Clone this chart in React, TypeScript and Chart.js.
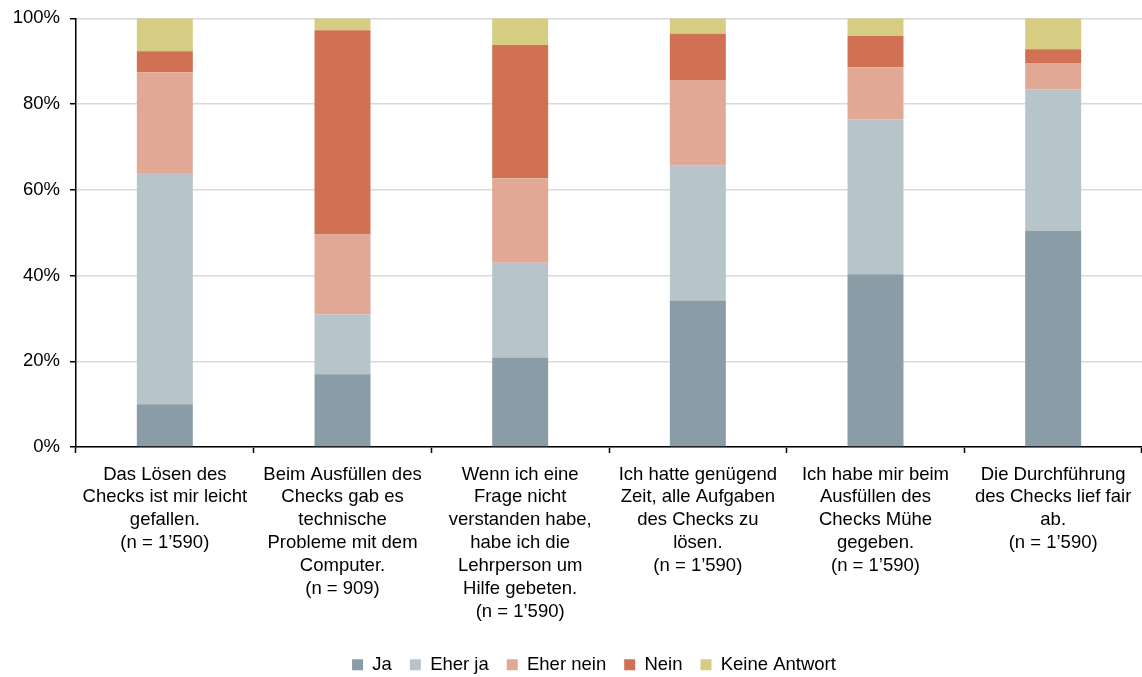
import React, { useEffect, useRef } from "react";
import { Chart, registerables } from "chart.js";

Chart.register(...registerables);

const categories: string[][] = [
  ["Das Lösen des", "Checks ist mir leicht", "gefallen.", "(n = 1’590)"],
  ["Beim Ausfüllen des", "Checks gab es", "technische", "Probleme mit dem", "Computer.", "(n = 909)"],
  ["Wenn ich eine", "Frage nicht", "verstanden habe,", "habe ich die", "Lehrperson um", "Hilfe gebeten.", "(n = 1’590)"],
  ["Ich hatte genügend", "Zeit, alle Aufgaben", "des Checks zu", "lösen.", "(n = 1’590)"],
  ["Ich habe mir beim", "Ausfüllen des", "Checks Mühe", "gegeben.", "(n = 1’590)"],
  ["Die Durchführung", "des Checks lief fair", "ab.", "(n = 1’590)"],
];

const ja = [10.0, 17.0, 20.9, 34.2, 40.3, 50.4];
const eherJa = [53.9, 13.9, 22.1, 31.5, 36.1, 33.0];
const eherNein = [23.5, 18.7, 19.7, 19.9, 12.2, 6.2];
const nein = [4.9, 47.6, 31.1, 10.8, 7.3, 3.2];
const keineAntwort = [7.7, 2.8, 6.2, 3.6, 4.1, 7.2];

const seriesNames = ["Ja", "Eher ja", "Eher nein", "Nein", "Keine Antwort"];
const seriesColors = ["#8a9ca6", "#b7c4c9", "#e1a896", "#cf7152", "#d7cd82"];
const yTicks = [0, 20, 40, 60, 80, 100];

const FONT = "'Liberation Sans', Arial, sans-serif";

export default function App() {
  const ref = useRef<HTMLCanvasElement | null>(null);

  useEffect(() => {
    document.body.style.margin = "0";
    const canvas = ref.current;
    if (!canvas) return;
    const values = [ja, eherJa, eherNein, nein, keineAntwort];
    const legendShift = {
      id: "legendShift",
      afterLayout(chart: any) {
        const lg = chart.legend;
        if (lg) {
          lg.left += 23;
          lg.right += 23;
          lg.top += 7;
          lg.bottom += 7;
        }
      },
    };
    const chart = new Chart(canvas, {
      type: "bar",
      data: {
        labels: categories,
        datasets: values.map((v, i) => ({
          label: seriesNames[i],
          data: v,
          backgroundColor: seriesColors[i],
          borderWidth: 0,
          categoryPercentage: 1,
          barPercentage: 0.315,
        })),
      },
      plugins: [legendShift],
      options: {
        animation: false,
        responsive: false,
        layout: { padding: { top: 0, right: 0, left: 0, bottom: 0 } },
        font: { family: FONT, size: 18.5 },
        plugins: {
          legend: {
            position: "bottom",
            labels: {
              boxWidth: 11,
              boxHeight: 11,
              padding: 18,
              color: "#000",
              font: { family: FONT, size: 18.5 },
            },
          },
          tooltip: { enabled: false },
        },
        scales: {
          x: {
            stacked: true,
            afterFit(scale: any) {
              const lh = scale.chart.legend ? scale.chart.legend.height : 0;
              scale.height = 677 - 447 - lh;
            },
            grid: {
              drawOnChartArea: false,
              tickLength: 6,
              tickColor: "#000",
              tickWidth: 1.5,
              offset: true,
            },
            border: { color: "#000", width: 1.5 },
            ticks: {
              autoSkip: false,
              maxRotation: 0,
              minRotation: 0,
              padding: 10,
              color: "#000",
              font: { family: FONT, size: 18.5, lineHeight: 1.235 },
            },
          },
          y: {
            stacked: true,
            min: 0,
            max: 100,
            afterFit(scale: any) {
              scale.width = 76;
            },
            afterBuildTicks(scale: any) {
              scale.ticks = yTicks.map((v) => ({ value: v }));
            },
            grid: {
              color: "#d9d9d9",
              lineWidth: 1.5,
              tickLength: 6,
              tickColor: "#000",
              tickWidth: 1.5,
            },
            border: { color: "#000", width: 1.5 },
            ticks: {
              padding: 10,
              color: "#000",
              font: { family: FONT, size: 18.5, lineHeight: 0.9 },
              callback: (v: any) => v + "%",
            },
          },
        },
      },
    });
    return () => chart.destroy();
  }, []);

  return (
    <div style={{ width: 1142, height: 677 }}>
      <canvas ref={ref} width={1142} height={677} />
    </div>
  );
}
